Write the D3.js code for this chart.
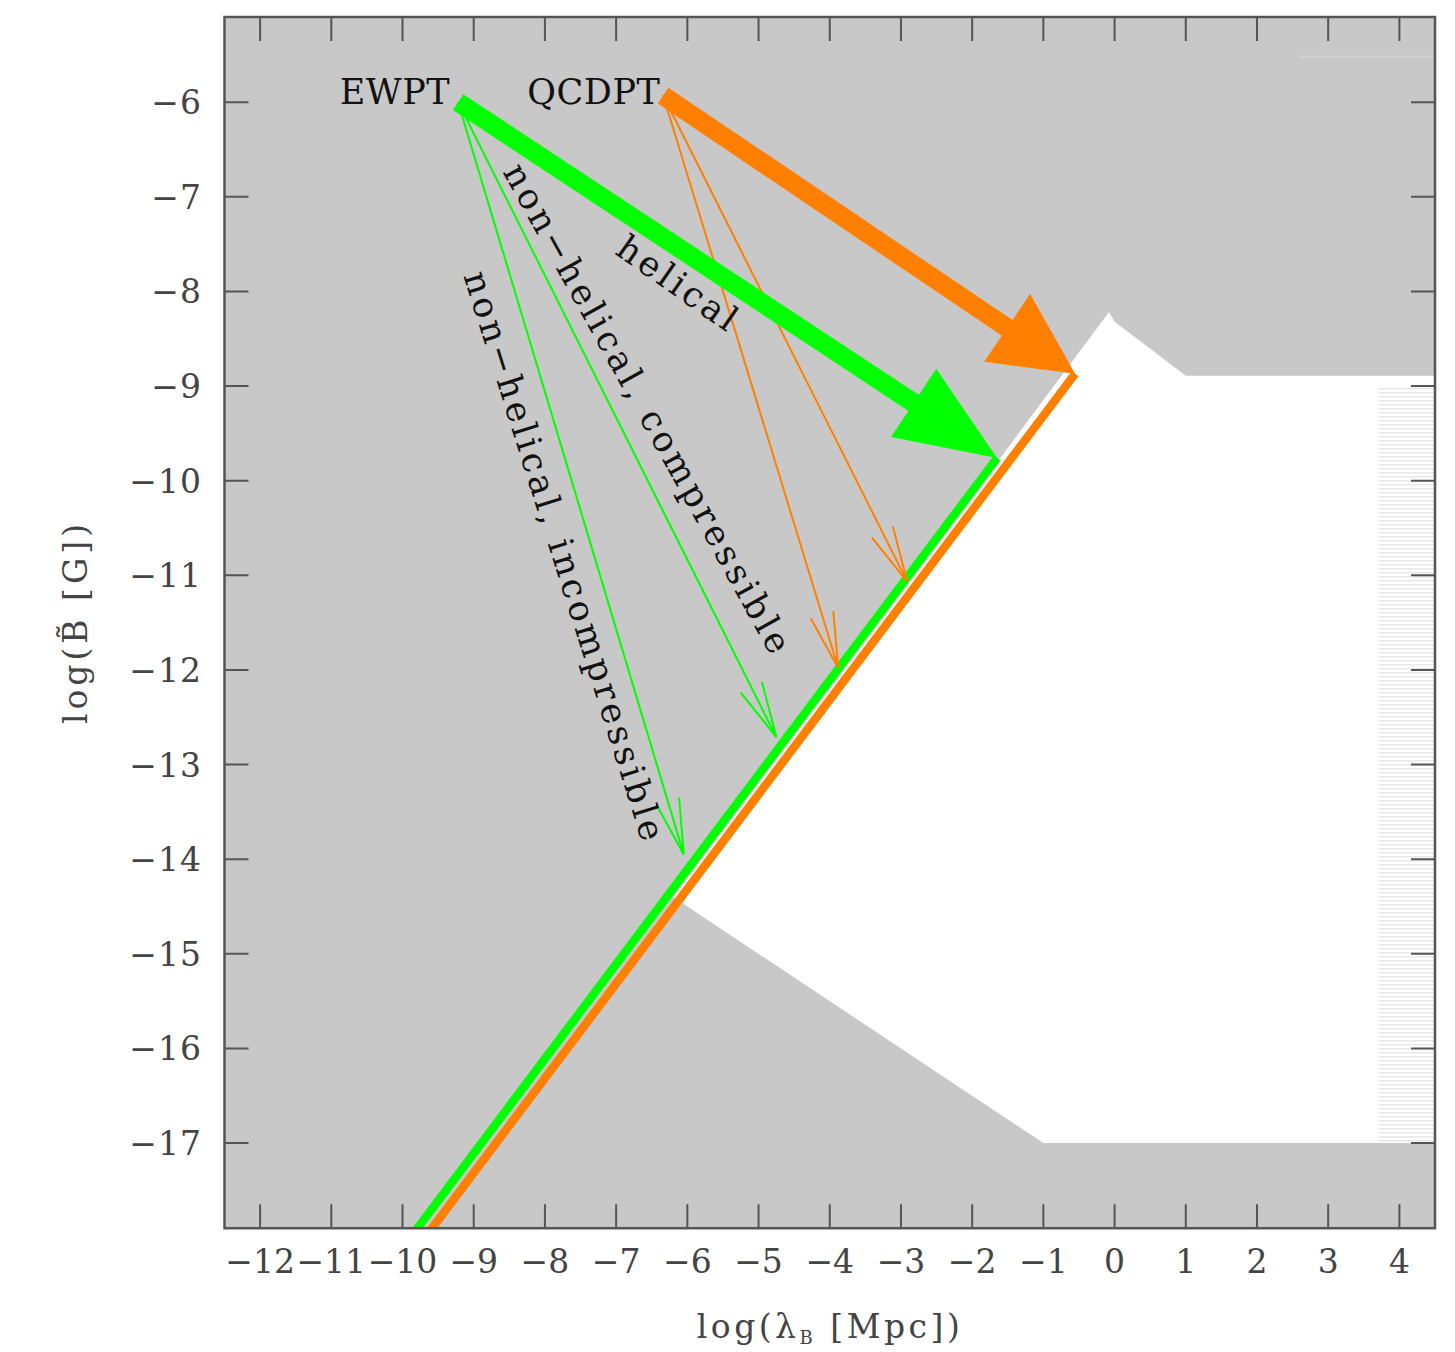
<!DOCTYPE html>
<html>
<head>
<meta charset="utf-8">
<script src="https://cdn.jsdelivr.net/npm/d3@7"></script>
<style>
  body { margin: 0; background: #fff; }
  text { font-family: "DejaVu Serif", serif; }
</style>
</head>
<body>
<div id="chart"></div>
<script>
const svgWidth = 1455;
const svgHeight = 1352;

// plot frame in pixels
const frame = { left: 224.5, right: 1435, top: 17, bottom: 1228.2 };

// ---- data (log lambda_B [Mpc], log B [G]) ----
const xTicks = d3.range(-12, 5);
const yTicks = d3.range(-17, -5);

// region left white (not excluded)
const allowedRegion = [[-6.2, -14.4], [-0.08, -8.22], [0, -8.32], [1, -8.89],
  [4.5, -8.89], [4.5, -17], [-1, -17]];
const hatchRegion = [[3.7, -9.02], [4.5, -9.02], [4.5, -17], [3.7, -17]];
const faintLine = [[2.6, -5.52], [4.5, -5.52]];

const transitions = ["EWPT", "QCDPT"];
const colors = ["#00ff00", "#ff8000"];
const startPoints = [[-9.22, -6.0], [-6.34, -5.93]];
const helicalEnds = [[-1.65, -9.76], [-0.555, -8.87]];
const nonHelicalEnds = [
  [[-4.75, -12.71], [-6.05, -13.95]],
  [[-2.91, -11.07], [-3.88, -11.98]]
];
// B ~ lambda lines: endpoints
const evolutionLines = [
  [[-10.09, -18.2], [-1.65, -9.76]],
  [[-9.885, -18.2], [-0.555, -8.87]]
];
const headLengths = [100, 82];

const labels = [
  { text: "EWPT", x: -9.33, y: -6.02, angle: 0, anchor: "end" },
  { text: "QCDPT", x: -6.38, y: -6.02, angle: 0, anchor: "end" },
  { text: "helical", x: -6.12, y: -7.92, angle: 35, anchor: "middle" },
  { text: "non\u2212helical, compressible", x: -6.55, y: -9.25, angle: 61, anchor: "middle" },
  { text: "non\u2212helical, incompressible", x: -7.72, y: -10.81, angle: 72.5, anchor: "middle" }
];

const svg = d3.select("#chart")
  .append("svg")
  .attr("width", svgWidth)
  .attr("height", svgHeight);

const x = d3.scaleLinear().domain([-12.5, 4.5]).range([frame.left, frame.right]);
const y = d3.scaleLinear().domain([-17.9, -5.1]).range([frame.bottom, frame.top]);

const defs = svg.append("defs");
defs.append("clipPath").attr("id", "plotclip")
  .append("rect")
  .attr("x", frame.left).attr("y", frame.top)
  .attr("width", frame.right - frame.left)
  .attr("height", frame.bottom - frame.top);

const hatch = defs.append("pattern")
  .attr("id", "hatch")
  .attr("patternUnits", "userSpaceOnUse")
  .attr("width", 8).attr("height", 4);
hatch.append("rect").attr("width", 8).attr("height", 4).attr("fill", "#fff");
hatch.append("rect").attr("width", 8).attr("height", 1.5).attr("fill", "#e8e8e8");

const plot = svg.append("g").attr("clip-path", "url(#plotclip)");
const toPath = d3.line().x(d => x(d[0])).y(d => y(d[1]));

// excluded (grey) background
plot.append("rect")
  .attr("x", x(-12.5)).attr("y", y(-5.1))
  .attr("width", x(4.5) - x(-12.5))
  .attr("height", y(-17.9) - y(-5.1))
  .attr("fill", "#c8c8c8");

plot.append("path")
  .attr("d", toPath(allowedRegion) + "Z")
  .attr("fill", "#fff");

plot.append("path")
  .attr("d", toPath(hatchRegion) + "Z")
  .attr("fill", "url(#hatch)");

plot.append("path")
  .attr("d", toPath(faintLine))
  .attr("stroke", "#d2d2d2")
  .attr("stroke-width", 2)
  .attr("fill", "none");

// evolution lines B ~ lambda
plot.selectAll(".evo")
  .data(evolutionLines)
  .enter()
  .append("path")
  .attr("class", "evo")
  .attr("d", d => toPath(d))
  .attr("stroke", (d, i) => colors[i])
  .attr("stroke-width", 8.5)
  .attr("fill", "none");

// thin non-helical arrows with open heads
function unit(p, q) {
  const dx = x(q[0]) - x(p[0]);
  const dy = y(q[1]) - y(p[1]);
  const len = Math.hypot(dx, dy);
  return [dx / len, dy / len];
}

transitions.forEach((name, i) => {
  const s = startPoints[i];
  nonHelicalEnds[i].forEach(e => {
    const u = unit(s, e);
    const tx = x(e[0]), ty = y(e[1]);
    const barb = a => {
      const c = Math.cos(a), sn = Math.sin(a);
      return [tx - 57 * (u[0] * c - u[1] * sn), ty - 57 * (u[0] * sn + u[1] * c)];
    };
    const b1 = barb(12 * Math.PI / 180), b2 = barb(-12 * Math.PI / 180);
    plot.append("path")
      .attr("d", `M${x(s[0])},${y(s[1])}L${tx},${ty}M${b1[0]},${b1[1]}L${tx},${ty}L${b2[0]},${b2[1]}`)
      .attr("stroke", colors[i])
      .attr("stroke-width", 2)
      .attr("fill", "none");
  });
});

// thick helical arrows
transitions.forEach((name, i) => {
  const s = startPoints[i], e = helicalEnds[i];
  const u = unit(s, e);
  const n = [-u[1], u[0]];
  const tx = x(e[0]), ty = y(e[1]);
  const L = headLengths[i], W = 41;
  const bx = tx - L * u[0], by = ty - L * u[1];
  plot.append("line")
    .attr("x1", x(s[0])).attr("y1", y(s[1]))
    .attr("x2", bx + 2 * u[0]).attr("y2", by + 2 * u[1])
    .attr("stroke", colors[i])
    .attr("stroke-width", 19);
  plot.append("path")
    .attr("d", `M${tx},${ty}L${bx + W * n[0]},${by + W * n[1]}L${bx - W * n[0]},${by - W * n[1]}Z`)
    .attr("fill", colors[i]);
});

// annotations
plot.selectAll(".note")
  .data(labels)
  .enter()
  .append("text")
  .attr("class", "note")
  .attr("transform", d => `translate(${x(d.x)},${y(d.y)}) rotate(${d.angle})`)
  .attr("dy", d => d.angle ? "0.35em" : 0)
  .attr("text-anchor", d => d.anchor)
  .attr("font-size", 35)
  .attr("letter-spacing", d => d.angle ? 3.5 : 0.5)
  .attr("fill", "#111")
  .text(d => d.text);

// ---- frame and ticks ----
const axisColor = "#555";
const tickLen = 24;
const ticksG = svg.append("g").attr("stroke", axisColor).attr("stroke-width", 2);

ticksG.selectAll(".xt")
  .data(xTicks)
  .enter()
  .append("path")
  .attr("d", d => `M${x(d)},${frame.bottom}v${-tickLen}M${x(d)},${frame.top}v${tickLen}`);

ticksG.selectAll(".yt")
  .data(yTicks)
  .enter()
  .append("path")
  .attr("d", d => `M${frame.left},${y(d)}h${tickLen}M${frame.right},${y(d)}h${-tickLen}`);

svg.append("rect")
  .attr("x", frame.left).attr("y", frame.top)
  .attr("width", frame.right - frame.left)
  .attr("height", frame.bottom - frame.top)
  .attr("fill", "none")
  .attr("stroke", axisColor)
  .attr("stroke-width", 2.5);

const fmt = d => (d < 0 ? "\u2212" : "") + Math.abs(d);

svg.selectAll(".xl")
  .data(xTicks)
  .enter()
  .append("text")
  .attr("x", d => x(d))
  .attr("y", frame.bottom + 45)
  .attr("text-anchor", "middle")
  .attr("font-size", 33)
  .attr("fill", "#444")
  .text(fmt);

svg.selectAll(".yl")
  .data(yTicks)
  .enter()
  .append("text")
  .attr("x", 202)
  .attr("y", d => y(d) + 12)
  .attr("text-anchor", "end")
  .attr("font-size", 33)
  .attr("letter-spacing", 1)
  .attr("fill", "#444")
  .text(fmt);

// axis titles
const xTitle = svg.append("text")
  .attr("x", 830)
  .attr("y", 1338)
  .attr("text-anchor", "middle")
  .attr("font-size", 33)
  .attr("letter-spacing", 3.5)
  .attr("fill", "#444");
xTitle.append("tspan").text("log(\u03bb");
xTitle.append("tspan").attr("font-size", 18).attr("dy", 6).text("B");
xTitle.append("tspan").attr("dy", -6).text(" [Mpc])");

svg.append("text")
  .attr("transform", "translate(87,622) rotate(-90)")
  .attr("text-anchor", "middle")
  .attr("font-size", 33)
  .attr("letter-spacing", 4)
  .attr("fill", "#444")
  .text("log(B\u0303 [G])");
</script>
</body>
</html>
